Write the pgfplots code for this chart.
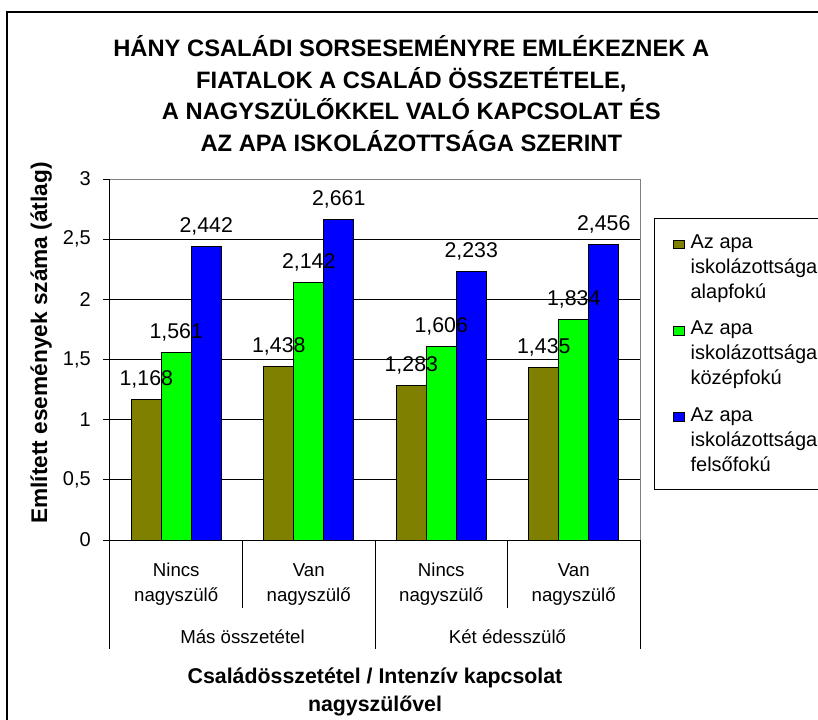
\documentclass[border=0pt]{standalone}
\usepackage{pgfplots}
\usepackage{pgfplotstable}
\pgfplotsset{compat=1.18}
\usepackage{fontspec}
\setmainfont{Liberation Sans}
\definecolor{olv}{RGB}{128,128,0}
\definecolor{grn}{RGB}{0,255,0}
\definecolor{blu}{RGB}{0,0,255}
\pgfplotstableread{
x a b c
0 1.168 1.561 2.442
1 1.438 2.142 2.661
2 1.283 1.606 2.233
3 1.435 1.834 2.456
}\data
\pgfplotsset{
 labelplot/.style={draw=none, fill=none, forget plot,
   nodes near coords={\pgfmathprintnumber[fixed,precision=3,use comma,assume math mode=true]{\pgfplotspointmeta}},
   nodes near coords style={font=\fontsize{16}{19}\selectfont, anchor=base, inner sep=0pt, yshift=10.5pt}},
}
\begin{document}
\begin{tikzpicture}
\useasboundingbox (0pt,0pt) rectangle (613.5pt,539.25pt);
\fill[white] (0pt,0pt) rectangle (613.5pt,539.25pt);
\draw[line width=1.5pt] (5.25pt,-15pt) -- (5.25pt,530.25pt) -- (630pt,530.25pt);
\node[font=\fontsize{17.8}{23.8}\selectfont\bfseries, align=center, anchor=base, inner sep=0pt] at (308.5pt,425.5pt)
 {HÁNY CSALÁDI SORSESEMÉNYRE EMLÉKEZNEK A\\FIATALOK A CSALÁD ÖSSZETÉTELE,\\A NAGYSZÜLŐKKEL VALÓ KAPCSOLAT ÉS\\AZ APA ISKOLÁZOTTSÁGA SZERINT};
\begin{axis}[
 at={(82.5pt,134.25pt)}, anchor=south west, scale only axis,
 width=397.5pt, height=270.75pt,
 xmin=-0.5, xmax=3.5, ymin=0, ymax=3,
 clip=false,
 ybar=0pt, bar width=0.226,
 axis x line*=bottom, axis y line*=left,
 axis line style={-, line width=0.75pt, black},
 ytick={0,0.5,1,1.5,2,2.5,3},
 ymajorgrids, grid style={black, line width=0.75pt},
 tick align=outside, major tick length=5.25pt,
 ytick style={black, line width=0.75pt},
 xtick={0,1,2,3},
 xticklabels={{Nincs\\nagyszülő},{Van\\nagyszülő},{Nincs\\nagyszülő},{Van\\nagyszülő}},
 xtick style={draw=none},
 xticklabel style={align=center, font=\fontsize{14}{18.75}\selectfont, anchor=base, inner sep=0pt, yshift=-40.8pt},
 yticklabel style={font=\fontsize{15}{18}\selectfont, anchor=east, inner sep=0pt, xshift=-9pt},
 /pgf/number format/.cd, use comma, assume math mode=true, /pgfplots/.cd,
 xlabel={Családösszetétel / Intenzív kapcsolat\\nagyszülővel},
 xlabel style={align=center, font=\fontsize{16}{21}\selectfont\bfseries, at={(axis description cs:0.5,-0.476)}, anchor=base, inner sep=0pt},
 ylabel={Említett események száma (átlag)},
 ylabel style={font=\fontsize{17}{20}\selectfont\bfseries, at={(axis description cs:-0.130,0.546)}, anchor=center, inner sep=0pt},
 legend style={at={(axis description cs:1.0264,0.892)}, anchor=north west, draw=black, line width=0.75pt,
   inner xsep=14pt, inner ysep=12pt, row sep=15.5pt,
   font=\fontsize{15}{18.75}\selectfont,
   cells={anchor=west}, nodes={align=left, inner sep=0pt, inner xsep=4pt}},
 legend image code/.code={\draw[#1, draw=black, line width=0.6pt] (0pt,14pt) rectangle (8.5pt,20.5pt);},
]
\addplot[fill=olv, draw=black, line width=0.75pt, bar shift=-0.226] table[x=x,y=a]{\data};
\addlegendentry{Az apa\\iskolázottsága\\alapfokú}
\addplot[fill=grn, draw=black, line width=0.75pt, bar shift=0] table[x=x,y=b]{\data};
\addlegendentry{Az apa\\iskolázottsága\\középfokú}
\addplot[fill=blu, draw=black, line width=0.75pt, bar shift=0.226] table[x=x,y=c]{\data};
\addlegendentry{Az apa\\iskolázottsága\\felsőfokú}
\addplot[labelplot, bar shift=-0.226] table[x=x,y=a]{\data};
\addplot[labelplot, bar shift=0] table[x=x,y=b]{\data};
\addplot[labelplot, bar shift=0.226] table[x=x,y=c]{\data};
\draw[gray, line width=0.75pt] (rel axis cs:0,1) -- (rel axis cs:1,1) -- (rel axis cs:1,0);
\draw[line width=0.75pt] (axis cs:-0.5,0) -- ++(0pt,-81.75pt);
\draw[line width=0.75pt] (axis cs:1.5,0) -- ++(0pt,-81.75pt);
\draw[line width=0.75pt] (axis cs:3.5,0) -- ++(0pt,-81.75pt);
\draw[line width=0.75pt] (axis cs:0.5,0) -- ++(0pt,-51pt);
\draw[line width=0.75pt] (axis cs:2.5,0) -- ++(0pt,-51pt);
\node[font=\fontsize{14}{17}\selectfont, anchor=base, inner sep=0pt] at ([yshift=-77.25pt]axis cs:0.5,0) {Más összetétel};
\node[font=\fontsize{14}{17}\selectfont, anchor=base, inner sep=0pt] at ([yshift=-77.25pt]axis cs:2.5,0) {Két édesszülő};
\end{axis}
\end{tikzpicture}
\end{document}
